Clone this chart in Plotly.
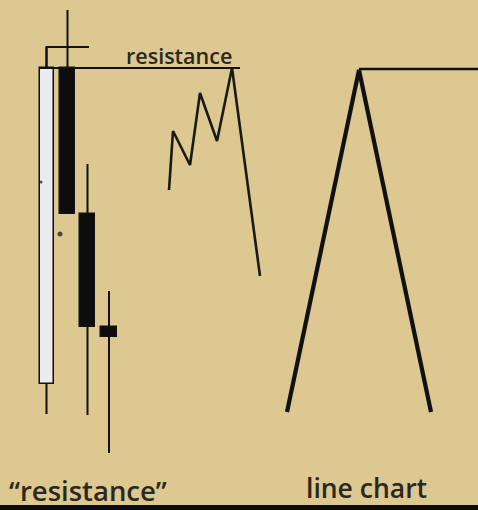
import plotly.graph_objects as go

# candles (pixel-like units, y grows downward)
candle_x = [46.5, 67.5, 87.5, 109]
body_top = [68, 68, 214, 327]
body_bot = [384, 214, 327, 337]
body_w = [14, 15, 15, 16]
body_fill = ["#ebebf0", "#0d0d0d", "#0d0d0d", "#0d0d0d"]
wick_top = [47, 10, 164, 291]
wick_bot = [414, 214, 415, 453]

# zig-zag approach to resistance
zig_x = [169, 173, 190, 200, 217, 232, 260]
zig_y = [190, 131, 165, 93, 141, 68, 276]

# line chart version
line_x = [287, 359, 431]
line_y = [412, 70, 412]

res_x = [40, 240]
res_y = [68, 68]
level_x = [359, 478]
level_y = [69, 69]

ink = "#111111"
bg = "#dcc890"

fig = go.Figure()

# wicks: upper and lower parts only, so they don't cross the bodies
wx, wy = [], []
for x, wt, bt, bb, wb in zip(candle_x, wick_top, body_top, body_bot, wick_bot):
    wx += [x, x, None, x, x, None]
    wy += [wt, bt, None, bb, wb, None]
# hook on the first candle's high
wx += [46.5, 46.5, 89, None]
wy += [68, 47, 47, None]
fig.add_trace(go.Scatter(x=wx, y=wy, mode="lines", line=dict(color=ink, width=2), hoverinfo="skip"))

# bodies
fig.add_trace(go.Bar(
    x=candle_x,
    y=[b - t for t, b in zip(body_top, body_bot)],
    base=body_top,
    width=body_w,
    marker=dict(color=body_fill, line=dict(color=ink, width=1.5)),
    hoverinfo="skip",
))

fig.add_trace(go.Scatter(x=res_x, y=res_y, mode="lines", line=dict(color=ink, width=2.2)))
fig.add_trace(go.Scatter(x=zig_x, y=zig_y, mode="lines", line=dict(color="#1a1a14", width=2.6)))
fig.add_trace(go.Scatter(x=line_x, y=line_y, mode="lines", line=dict(color=ink, width=4.2)))
fig.add_trace(go.Scatter(x=level_x, y=level_y, mode="lines", line=dict(color=ink, width=2.4)))

# stray dots
fig.add_trace(go.Scatter(x=[60, 41], y=[234, 182], mode="markers",
                         marker=dict(color=ink, size=[5, 3], line=dict(width=0)), hoverinfo="skip"))

txt = "#2a2820"
fig.add_annotation(x=179, y=55, text="resistance", showarrow=False,
                   font=dict(family="Open Sans", size=21.5, color=txt, weight=600))
fig.add_annotation(x=88, y=490, text="\u201cresistance\u201d", showarrow=False,
                   font=dict(family="Open Sans", size=27.5, color=txt, weight=600))
fig.add_annotation(x=366, y=488, text="line chart", showarrow=False,
                   font=dict(family="Open Sans", size=26.5, color=txt, weight=600))

# dark strip at the bottom edge
fig.add_shape(type="rect", x0=0, x1=478, y0=505, y1=510, fillcolor="#0c0c0c", line_width=0, layer="above")

fig.update_layout(
    width=478, height=510,
    margin=dict(l=0, r=0, t=0, b=0),
    paper_bgcolor=bg, plot_bgcolor=bg,
    showlegend=False,
    bargap=0,
    xaxis=dict(range=[0, 478], visible=False, fixedrange=True),
    yaxis=dict(range=[510, 0], visible=False, fixedrange=True),
)

fig.write_html("out.html", config={"displayModeBar": False},
               post_script="document.body.style.margin='0';document.body.style.background='%s';" % bg)
